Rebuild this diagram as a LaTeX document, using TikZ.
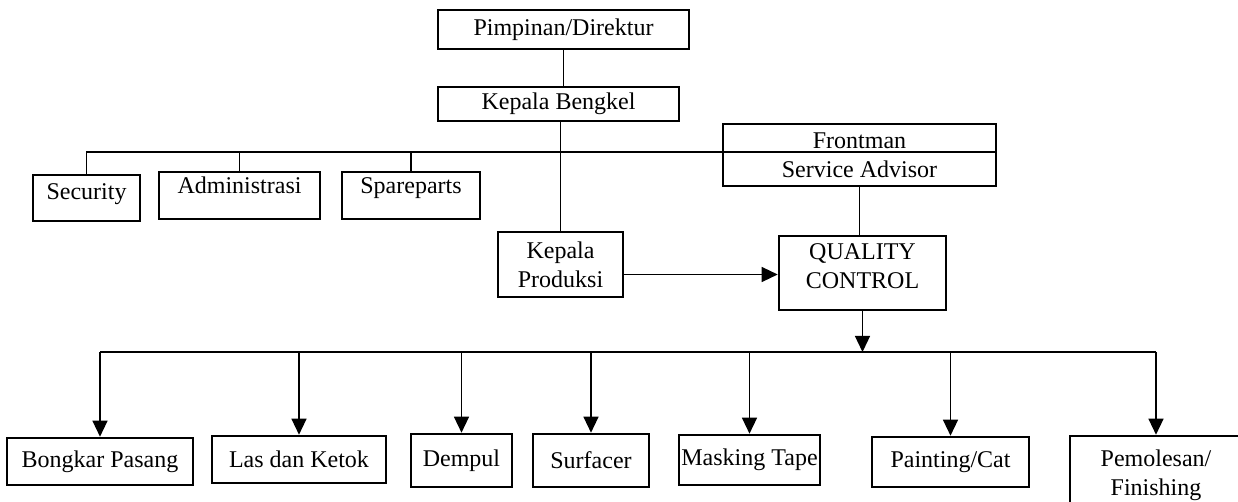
\documentclass[tikz,border=0pt]{standalone}
\usepackage{fontspec}
\setmainfont{Liberation Serif}
\usetikzlibrary{arrows.meta}

\begin{document}
\begin{tikzpicture}[x=0.5pt,y=-0.5pt,
  box/.style={draw,line width=1.3pt,inner xsep=2pt,inner ysep=1.5pt,align=center,
    font=\fontsize{12}{14.5}\selectfont},
  link/.style={line width=0.65pt},
  arr/.style={line width=0.65pt,-{Triangle[length=8pt,width=7.5pt]}}]
\useasboundingbox (0,0) rectangle (1238,502);
% pimpinan
\node[box,minimum width=125.5pt,minimum height=19.5pt] (pim) at (563.5,29.5) {Pimpinan/Direktur};
\node[box,minimum width=120.5pt,minimum height=17pt] (keb) at (558.5,104) {Kepala Bengkel};
% staf
\node[box,minimum width=53.5pt,minimum height=23pt,text depth=6pt] (sec) at (86.5,198) {Security};
\node[box,minimum width=80.5pt,minimum height=23.5pt,text depth=10pt] (adm) at (239.5,195.5) {Administrasi};
\node[box,minimum width=69pt,minimum height=23.5pt,text depth=10pt] (spa) at (411,195.5) {Spareparts};
\node[box,minimum width=136.5pt,minimum height=31pt] (front) at (859.5,155) {Frontman\\Service Advisor};
% produksi
\node[box,minimum width=62.5pt,minimum height=32.5pt] (kp) at (560.5,264.5) {Kepala\\Produksi};
\node[box,minimum width=83.5pt,minimum height=37pt,text depth=6.5pt] (qc) at (862.5,273) {QUALITY\\CONTROL};
% bagian
\node[box,minimum width=93pt,minimum height=23.5pt] (bp) at (100,461.5) {Bongkar Pasang};
\node[box,minimum width=87pt,minimum height=23.5pt] (ld) at (299,459.5) {Las dan Ketok};
\node[box,minimum width=50.5pt,minimum height=26.5pt] (dem) at (461.5,460.5) {Dempul};
\node[box,minimum width=58pt,minimum height=26.5pt] (sur) at (591,460.5) {Surfacer};
\node[box,minimum width=70.5pt,minimum height=25pt,inner xsep=0pt] (mt) at (749.5,460) {Masking Tape};
\node[box,minimum width=78.5pt,minimum height=25pt] (pc) at (950.5,462) {Painting/Cat};
\node[box,minimum width=86pt,minimum height=39.5pt] (pf) at (1156,475.5) {Pemolesan/\\Finishing};

\coordinate (tb) at (86,152);
\coordinate (bus) at (103,352);

\draw[link] (pim.south) -- (pim.south |- keb.north);
\draw[link] (kp.north |- keb.south) -- (kp.north);
\draw[link] (tb) -- (tb -| front.east);
\foreach \n in {sec,adm,spa}
  \draw[link] (\n.north |- tb) -- (\n.north);
\draw[link] (front.south) -- (front.south |- qc.north);
\coordinate (kpout) at ([yshift=-5pt]kp.east);
\draw[arr] (kpout) -- (kpout -| qc.west);
\draw[arr] (qc.south) -- (qc.south |- bus);
\draw[link] (bp.north |- bus) -- (pf.north |- bus);
\foreach \n in {bp,ld,dem,sur,mt,pc,pf}
  \draw[arr] (\n.north |- bus) -- (\n.north);
\end{tikzpicture}
\end{document}
